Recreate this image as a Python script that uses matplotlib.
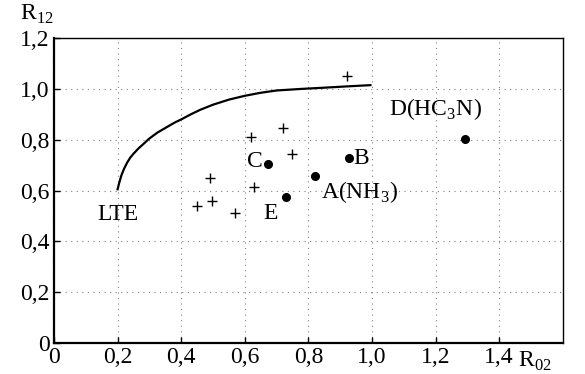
import matplotlib
matplotlib.use('Agg')
import matplotlib.pyplot as plt

plt.rcParams['font.family'] = 'Liberation Serif'
plt.rcParams['mathtext.fontset'] = 'custom'
plt.rcParams['mathtext.rm'] = 'Liberation Serif'

# LTE curve
curve_x = [0.2, 0.205, 0.212, 0.22, 0.23, 0.24, 0.25, 0.265, 0.28, 0.3, 0.325,
           0.355, 0.38, 0.4, 0.43, 0.46, 0.5, 0.55, 0.6, 0.65, 0.7, 0.775,
           0.85, 0.92, 0.995]
curve_y = [0.605, 0.63, 0.66, 0.685, 0.71, 0.73, 0.745, 0.765, 0.782, 0.805,
           0.828, 0.85, 0.868, 0.88, 0.9, 0.918, 0.938, 0.958, 0.973, 0.985,
           0.994, 1.0, 1.005, 1.01, 1.015]

# crosses
plus_x = [0.62, 0.72, 0.75, 0.49, 0.92, 0.45, 0.497, 0.569, 0.629]
plus_y = [0.81, 0.846, 0.744, 0.65, 1.05, 0.539, 0.559, 0.512, 0.614]

# named sources: A, B, C, D, E
src_x = [0.821, 0.928, 0.673, 1.292, 0.73]
src_y = [0.657, 0.728, 0.705, 0.803, 0.575]

xticks = [0, 0.2, 0.4, 0.6, 0.8, 1.0, 1.2, 1.4]
xlabels = ['0', '0,2', '0,4', '0,6', '0,8', '1,0', '1,2', '1,4']
yticks = [0, 0.2, 0.4, 0.6, 0.8, 1.0, 1.2]
ylabels = ['0', '0,2', '0,4', '0,6', '0,8', '1,0', '1,2']

fig = plt.figure(figsize=(5.85, 3.74), dpi=100)
ax = fig.add_axes([0.0923, 0.0829, 0.8697, 0.8151])

ax.plot(curve_x, curve_y, color='black', lw=1.6)
ax.plot(plus_x, plus_y, '+', color='black', ms=7, mew=1.0)
ax.plot(src_x, src_y, 'o', color='black', ms=5.5)

ax.set_xlim(0, 1.6)
ax.set_ylim(0, 1.2)
ax.set_xticks(xticks)
ax.set_xticklabels(xlabels)
ax.set_yticks(yticks)
ax.set_yticklabels(ylabels)
ax.tick_params(direction='in', length=4, width=1, labelsize=17, pad=3)
ax.grid(True, color='0.5', linestyle=(0, (1, 4)), linewidth=0.8)

for side in ['left', 'bottom']:
    ax.spines[side].set_linewidth(1.6)
for side in ['top', 'right']:
    ax.spines[side].set_linewidth(1.0)

ax.text(0.2, 0.505, 'LTE', fontsize=17, ha='center', va='center')
ax.text(0.655, 0.715, 'C', fontsize=17, ha='right', va='center')
ax.text(0.94, 0.725, 'B', fontsize=17, ha='left', va='center')
ax.text(0.84, 0.595, 'A(NH$_3$)', fontsize=17, ha='left', va='center')
ax.text(0.68, 0.51, 'E', fontsize=17, ha='center', va='center')
ax.text(1.2, 0.92, 'D(HC$_3$N)', fontsize=17, ha='center', va='center')

fig.text(0.035, 0.93, 'R$_{12}$', fontsize=17, ha='left', va='bottom')
fig.text(0.885, 0.035, 'R$_{02}$', fontsize=17, ha='left', va='center')

fig.savefig('out.png', dpi=100)
